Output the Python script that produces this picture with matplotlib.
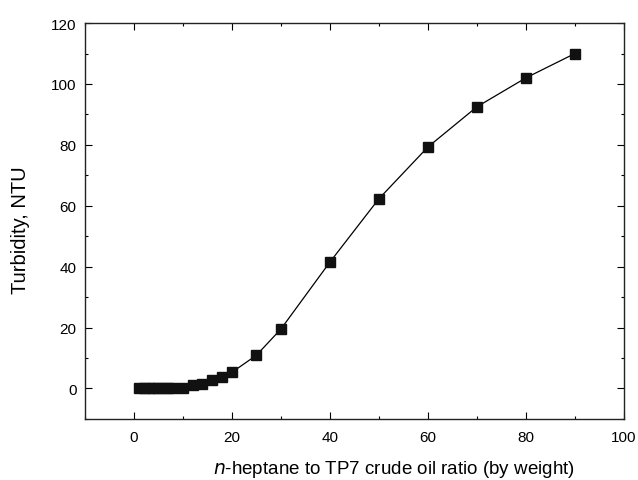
import matplotlib
matplotlib.use("Agg")
import matplotlib.pyplot as plt
from matplotlib.ticker import MultipleLocator

plt.rcParams["font.family"] = ["Liberation Sans", "DejaVu Sans"]

# heptane to crude oil ratio vs turbidity
ratio = [1, 2, 3, 4, 5, 6, 7, 8, 10, 12, 14, 16, 18, 20, 25, 30, 40, 50, 60, 70, 80, 90]
turbidity = [0, 0, 0, 0, 0, 0, 0, 0, 0.3, 1.0, 1.5, 2.7, 3.8, 5.3, 10.9,
             19.5, 41.5, 62.3, 79.3, 92.5, 102, 110]

x_ticks = [0, 20, 40, 60, 80, 100]
y_ticks = [0, 20, 40, 60, 80, 100, 120]

fig = plt.figure(figsize=(6.38, 4.81), dpi=100)
ax = fig.add_axes([0.133, 0.127, 0.845, 0.823])

ax.plot(ratio, turbidity, color="black", linewidth=0.9, marker="s",
        markersize=7, markerfacecolor="#111111", markeredgecolor="#111111")

ax.set_xlim(-10, 100)
ax.set_ylim(-10, 120)
ax.set_xticks(x_ticks)
ax.set_yticks(y_ticks)
ax.xaxis.set_minor_locator(MultipleLocator(10))
ax.yaxis.set_minor_locator(MultipleLocator(10))
ax.tick_params(which="both", direction="in", top=True, right=True,
               labelsize=11, width=0.8)
ax.tick_params(axis="x", pad=8)
ax.tick_params(axis="y", pad=6)
ax.tick_params(which="major", length=5)
ax.tick_params(which="minor", length=2.5)
for sp in ax.spines.values():
    sp.set_linewidth(1.0)
    sp.set_color("#222222")

ax.set_xlabel("$n$-heptane to TP7 crude oil ratio (by weight)", fontsize=13.5)
ax.set_ylabel("Turbidity, NTU", fontsize=14.5)
ax.xaxis.set_label_coords(0.573, -0.098)
ax.yaxis.set_label_coords(-0.102, 0.48)

fig.savefig("out.png", dpi=100)
